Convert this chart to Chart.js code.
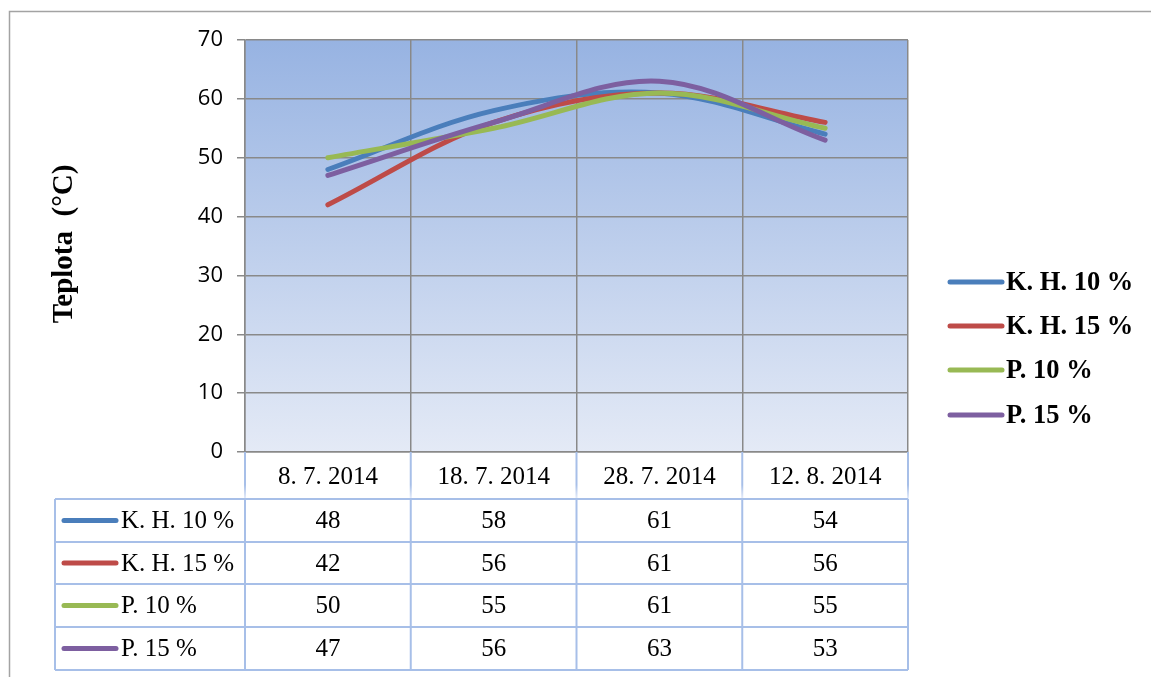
<!DOCTYPE html>
<html>
<head>
<meta charset="utf-8">
<script src="https://cdn.jsdelivr.net/npm/chart.js@4/dist/chart.umd.min.js"></script>
<style>
  html, body { margin: 0; padding: 0; background: #fff; }
  #wrap { width: 1151px; height: 677px; position: relative; }
</style>
</head>
<body>
<div id="wrap"><canvas id="tempChart"></canvas></div>
<script>
// dates of measurement
const dates = ['8. 7. 2014', '18. 7. 2014', '28. 7. 2014', '12. 8. 2014'];

// series names
const seriesNames = ['K. H. 10 %', 'K. H. 15 %', 'P. 10 %', 'P. 15 %'];
const seriesColors = ['#4a7ebb', '#be4b48', '#98b954', '#7d5fa0'];

// temperature (°C)
const kh10 = [48, 58, 61, 54];
const kh15 = [42, 56, 61, 56];
const p10 = [50, 55, 61, 55];
const p15 = [47, 56, 63, 53];

const allSeries = [kh10, kh15, p10, p15];

const yMin = 0, yMax = 70, yStep = 10;
const yTitle = 'Teplota  (°C)';

const serif = '"Liberation Serif", "Times New Roman", serif';
const tableLine = '#a7bfe8';

// background gradient, outer frame, axis title, legend and data table
const extras = {
    id: 'extras',
    beforeDraw(chart) {
        const c = chart.ctx;
        const a = chart.chartArea;
        c.save();
        c.fillStyle = '#fff';
        c.fillRect(0, 0, chart.width, chart.height);
        c.strokeStyle = '#a3a3a3';
        c.lineWidth = 1.5;
        c.strokeRect(9.5, 11.5, chart.width + 20, chart.height + 20);
        const g = c.createLinearGradient(0, a.top, 0, a.bottom);
        g.addColorStop(0, '#97b3e2');
        g.addColorStop(1, '#e4eaf6');
        c.fillStyle = g;
        c.fillRect(a.left, a.top, a.right - a.left, a.bottom - a.top);
        c.restore();
    },
    afterDraw(chart) {
        const c = chart.ctx;
        const a = chart.chartArea;
        const x = chart.scales.x;
        c.save();

        // y axis title
        c.translate(65, 244);
        c.rotate(-Math.PI / 2);
        c.fillStyle = '#000';
        c.font = 'bold 29px ' + serif;
        c.textBaseline = 'middle';
        c.textAlign = 'center';
        c.fillText(yTitle, 0, 0);
        c.setTransform(1, 0, 0, 1, 0, 0);

        // legend on the right
        const legY = [282, 326, 370, 415];
        c.lineCap = 'round';
        seriesNames.forEach((name, i) => {
            c.strokeStyle = seriesColors[i];
            c.lineWidth = 5;
            c.beginPath();
            c.moveTo(950, legY[i]);
            c.lineTo(1002, legY[i]);
            c.stroke();
            c.fillStyle = '#000';
            c.font = 'bold 26.5px ' + serif;
            c.textAlign = 'left';
            c.textBaseline = 'middle';
            c.fillText(name, 1006, legY[i] + 1);
        });

        // data table under the plot
        const bounds = [a.left];
        for (let i = 0; i < dates.length - 1; i++) {
            bounds.push((x.getPixelForValue(i) + x.getPixelForValue(i + 1)) / 2);
        }
        bounds.push(a.right);
        const headTop = a.bottom, headBottom = 499;
        const rows = [499, 542, 584, 627, 670];
        const tableLeft = 55;

        c.lineCap = 'butt';
        c.lineWidth = 2;
        // header verticals fade out downwards
        const hg = c.createLinearGradient(0, headTop, 0, headBottom);
        hg.addColorStop(0, tableLine);
        hg.addColorStop(0.7, tableLine);
        hg.addColorStop(1, '#e8eefa');
        c.strokeStyle = hg;
        bounds.forEach(b => {
            c.beginPath();
            c.moveTo(b, headTop);
            c.lineTo(b, headBottom);
            c.stroke();
        });
        c.strokeStyle = tableLine;
        // row lines
        rows.forEach(r => {
            c.beginPath();
            c.moveTo(tableLeft, r);
            c.lineTo(a.right, r);
            c.stroke();
        });
        // body verticals
        [tableLeft].concat(bounds).forEach(b => {
            c.beginPath();
            c.moveTo(b, rows[0]);
            c.lineTo(b, rows[rows.length - 1]);
            c.stroke();
        });

        c.fillStyle = '#000';
        c.font = '25px ' + serif;
        c.textAlign = 'center';
        c.textBaseline = 'middle';
        dates.forEach((d, i) => {
            c.fillText(d, x.getPixelForValue(i), (headTop + headBottom) / 2 + 2);
        });
        allSeries.forEach((vals, s) => {
            const cy = (rows[s] + rows[s + 1]) / 2 + 1;
            vals.forEach((v, i) => {
                c.fillStyle = '#000';
                c.textAlign = 'center';
                c.fillText(String(v), x.getPixelForValue(i), cy);
            });
            c.strokeStyle = seriesColors[s];
            c.lineWidth = 5;
            c.lineCap = 'round';
            c.beginPath();
            c.moveTo(64, cy - 1);
            c.lineTo(116, cy - 1);
            c.stroke();
            c.textAlign = 'left';
            c.fillText(seriesNames[s], 121, cy);
        });
        c.restore();
    }
};

const ctx = document.getElementById('tempChart').getContext('2d');

new Chart(ctx, {
    type: 'line',
    data: {
        labels: dates,
        datasets: allSeries.map((vals, i) => ({
            label: seriesNames[i],
            data: vals,
            borderColor: seriesColors[i],
            backgroundColor: seriesColors[i],
            borderWidth: 5,
            borderCapStyle: 'round',
            pointRadius: 0,
            tension: 0.35,
            order: allSeries.length - 1 - i
        }))
    },
    options: {
        responsive: true,
        maintainAspectRatio: false,
        animation: false,
        layout: { padding: { left: 0, right: 243, top: 40, bottom: 225 } },
        plugins: {
            legend: { display: false },
            tooltip: { enabled: false }
        },
        scales: {
            x: {
                offset: true,
                ticks: { display: false },
                grid: { color: '#898989', lineWidth: 1.5, offset: true, drawTicks: false },
                border: { color: '#898989', width: 1.5 },
                afterFit(scale) { scale.height = 0; }
            },
            y: {
                min: yMin,
                max: yMax,
                ticks: {
                    stepSize: yStep,
                    color: '#000',
                    padding: 14,
                    font: { family: '"Open Sans", sans-serif', size: 22 }
                },
                grid: { color: '#898989', lineWidth: 1.5, tickLength: 8 },
                border: { color: '#898989', width: 1.5 },
                afterFit(scale) { scale.width = 245; }
            }
        }
    },
    plugins: [extras]
});
</script>
</body>
</html>
